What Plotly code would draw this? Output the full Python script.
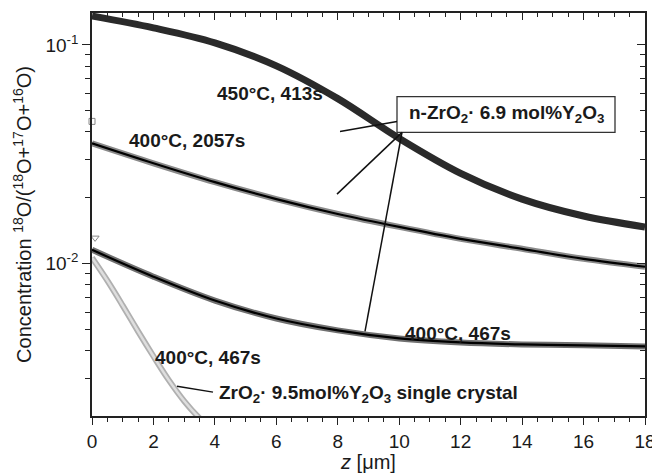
import plotly.graph_objects as go

# ---- data ----
z_grid = [0, 2, 4, 6, 8, 10, 12, 14, 16, 18]
c_450_413 = [0.1354, 0.1195, 0.1021, 0.0802, 0.0568, 0.0374, 0.0259, 0.01974, 0.01653, 0.01473]
c_400_2057 = [0.03548, 0.02877, 0.02359, 0.01974, 0.01688, 0.01473, 0.01299, 0.01170, 0.01053, 0.00969]
c_400_467 = [0.01158, 0.00873, 0.00679, 0.00562, 0.00496, 0.00456, 0.00437, 0.00428, 0.00424, 0.00419]
z_sc = [0, 0.5, 1.0, 1.5, 2.0, 2.5, 3.0, 3.5, 4.0]
c_sc_467 = [0.01065, 0.00837, 0.00644, 0.00491, 0.00378, 0.00294, 0.00236, 0.00197, 0.00170]
outlier_2057 = ([0.0], [0.0447])
outlier_467 = ([0.1], [0.01313])

x_major = [0, 2, 4, 6, 8, 10, 12, 14, 16, 18]
x_labels = [str(v) for v in x_major]
y_major = [0.01, 0.1]
y_labels = ["10<sup>-2</sup>", "10<sup>-1</sup>"]
y_minor = [0.002, 0.003, 0.004, 0.005, 0.006, 0.007, 0.008, 0.009,
           0.02, 0.03, 0.04, 0.05, 0.06, 0.07, 0.08, 0.09]

# page geometry (the page body has an 8px margin)
OFF = 8
W, H = 660 - OFF, 473 - OFF
L, R, T, B = 92, 645, 11, 416          # plot area in page pixels
def px(x):
    return (x - L) / (R - L)
def py(y):
    return (B - y) / (B - T)

fig = go.Figure()

# single crystal (light grey open squares chain)
fig.add_trace(go.Scatter(x=z_sc, y=c_sc_467, mode="lines", line=dict(color="#b0b0b0", width=6, shape="spline"),
                         hoverinfo="skip", showlegend=False))
fig.add_trace(go.Scatter(x=z_sc, y=c_sc_467, mode="lines", line=dict(color="#dedede", width=2.5, shape="spline"),
                         hoverinfo="skip", showlegend=False))
# 400C 467s nano
fig.add_trace(go.Scatter(x=z_grid, y=c_400_467, mode="lines", line=dict(color="#707070", width=6, shape="spline"),
                         hoverinfo="skip", showlegend=False))
fig.add_trace(go.Scatter(x=z_grid, y=c_400_467, mode="lines", line=dict(color="black", width=2.2, shape="spline"),
                         showlegend=False))
# 400C 2057s
fig.add_trace(go.Scatter(x=z_grid, y=c_400_2057, mode="lines", line=dict(color="#8a8a8a", width=6, shape="spline"),
                         hoverinfo="skip", showlegend=False))
fig.add_trace(go.Scatter(x=z_grid, y=c_400_2057, mode="lines", line=dict(color="black", width=2.2, shape="spline"),
                         showlegend=False))
# 450C 413s
fig.add_trace(go.Scatter(x=z_grid, y=c_450_413, mode="lines", line=dict(color="#2a2a2a", width=7, shape="spline"),
                         showlegend=False))
# outlier markers
fig.add_trace(go.Scatter(x=outlier_2057[0], y=outlier_2057[1], mode="markers",
                         marker=dict(symbol="square-open", size=6, color="#888"), showlegend=False, cliponaxis=False))
fig.add_trace(go.Scatter(x=outlier_467[0], y=outlier_467[1], mode="markers",
                         marker=dict(symbol="triangle-down-open", size=7, color="#888"), showlegend=False, cliponaxis=False))
# dummy for mirrored axes
fig.add_trace(go.Scatter(x=[1], y=[0.01], xaxis="x2", yaxis="y2", mode="markers",
                         marker=dict(opacity=0), hoverinfo="skip", showlegend=False))

font_main = "Liberation Sans, Arial, Helvetica, sans-serif"
yr = [-2.6955, -0.8545]

fig.update_layout(
    width=W, height=H,
    margin=dict(l=L - OFF, r=660 - R, t=T - OFF, b=473 - B),
    paper_bgcolor="white", plot_bgcolor="white",
    font=dict(family=font_main, size=19, color="#1a1a1a"),
    xaxis=dict(range=[0, 18], tickvals=x_major, ticktext=x_labels, ticks="outside", ticklen=7, tickwidth=1.3,
               tickcolor="#222", showline=True, linecolor="#222", linewidth=1.6, mirror=True, showgrid=False,
               zeroline=False, minor=dict(dtick=0.5, tick0=0, ticks="outside", ticklen=4, tickwidth=1.1, tickcolor="#222"),
               title=dict(text="<i>z</i> [μm]", font=dict(size=20), standoff=0), tickfont=dict(size=19)),
    yaxis=dict(type="log", range=yr, tickvals=y_major, ticktext=y_labels, ticks="outside", ticklen=8, tickwidth=1.3,
               tickcolor="#222", showline=True, linecolor="#222", linewidth=1.6, mirror=True, showgrid=False,
               zeroline=False, minor=dict(tickvals=y_minor, ticks="outside", ticklen=5, tickwidth=1.1, tickcolor="#222"),
               title=dict(text="Concentration <sup>18</sup>O/(<sup>18</sup>O+<sup>17</sup>O+<sup>16</sup>O)",
                          font=dict(size=20), standoff=8), tickfont=dict(size=19)),
    xaxis2=dict(range=[0, 18], overlaying="x", side="top", anchor="y", tickvals=x_major, ticks="inside", ticklen=7,
                tickwidth=1.3, tickcolor="#222", showticklabels=False, showgrid=False, zeroline=False,
                minor=dict(dtick=0.5, tick0=0, ticks="inside", ticklen=4, tickwidth=1.1, tickcolor="#222")),
    yaxis2=dict(type="log", range=yr, overlaying="y", side="right", anchor="x", tickvals=y_major, ticks="inside",
                ticklen=8, tickwidth=1.3, tickcolor="#222", showticklabels=False, showgrid=False, zeroline=False,
                minor=dict(tickvals=y_minor, ticks="inside", ticklen=5, tickwidth=1.1, tickcolor="#222")),
)

bold = dict(family=font_main, size=19, color="#1a1a1a")
def label(text, x, y, xanchor="center"):
    fig.add_annotation(text="<b>" + text + "</b>", x=px(x), y=py(y), xref="paper", yref="paper",
                       showarrow=False, xanchor=xanchor, yanchor="middle", font=bold)

label("450°C, 413s", 270, 92)
label("400°C, 2057s", 187, 139)
label("400°C, 467s", 458, 333)
label("400°C, 467s", 208, 357)
label("ZrO<sub>2</sub>· 9.5mol%Y<sub>2</sub>O<sub>3</sub> single crystal", 217, 394, xanchor="left")

# boxed legend
fig.add_shape(type="rect", xref="paper", yref="paper", x0=px(397), x1=px(615), y0=py(131), y1=py(95),
              line=dict(color="#333", width=1.3), fillcolor="white")
label("n-ZrO<sub>2</sub>· 6.9 mol%Y<sub>2</sub>O<sub>3</sub>", 506, 112)

def seg(x0, y0, x1, y1):
    fig.add_shape(type="line", xref="paper", yref="paper", x0=px(x0), y0=py(y0), x1=px(x1), y1=py(y1),
                  line=dict(color="#111", width=1.5))

seg(340, 130, 397, 120)
seg(402, 131, 337, 193)
seg(402, 131, 365, 331)
seg(177, 386, 213, 392)

fig.write_html("out.html")
